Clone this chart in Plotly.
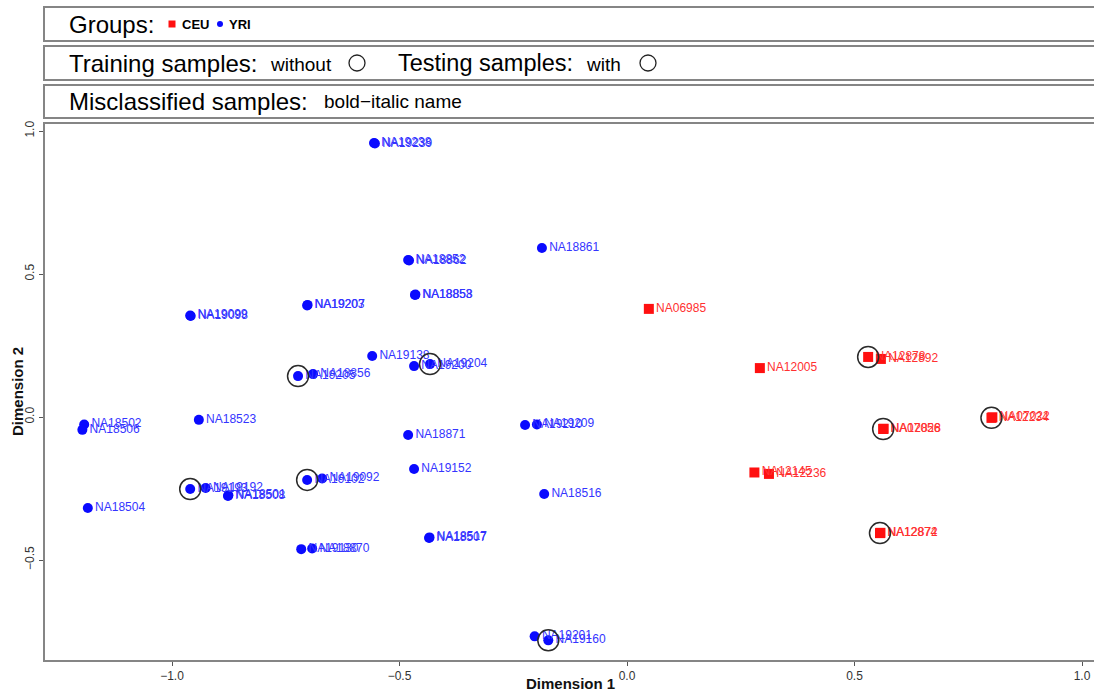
import plotly.graph_objects as go

# MDS coordinates of HapMap samples (Dimension 1, Dimension 2)
yri_ids = [
    "NA19238", "NA19239", "NA18861", "NA18852", "NA18862", "NA18853", "NA18858",
    "NA19203", "NA19207", "NA19099", "NA19098", "NA19138", "NA19200", "NA19204",
    "NA19205", "NA18856", "NA18871", "NA19210", "NA19209", "NA19152", "NA19102",
    "NA19092", "NA18516", "NA18507", "NA18517", "NA19130", "NA18870", "NA18502",
    "NA18506", "NA18523", "NA19193", "NA19192", "NA18508", "NA18501", "NA18504",
    "NA19201", "NA19160",
]
yri_dim1 = [
    -0.556, -0.554, -0.187, -0.481, -0.479, -0.466, -0.465,
    -0.703, -0.702, -0.960, -0.959, -0.560, -0.468, -0.433,
    -0.723, -0.690, -0.481, -0.224, -0.198, -0.468, -0.703,
    -0.670, -0.182, -0.435, -0.434, -0.716, -0.692, -1.193,
    -1.197, -0.941, -0.960, -0.926, -0.877, -0.876, -1.185,
    -0.203, -0.173,
]
yri_dim2 = [
    0.958, 0.956, 0.591, 0.549, 0.547, 0.427, 0.428,
    0.390, 0.392, 0.355, 0.353, 0.213, 0.178, 0.185,
    0.143, 0.150, -0.063, -0.028, -0.026, -0.182, -0.220,
    -0.215, -0.269, -0.423, -0.421, -0.462, -0.460, -0.026,
    -0.045, -0.010, -0.252, -0.248, -0.276, -0.274, -0.318,
    -0.767, -0.781,
]
yri_test = [
    False, False, False, False, False, False, False,
    False, False, False, False, False, False, True,
    True, False, False, False, False, False, True,
    False, False, False, False, False, False, False,
    False, False, True, False, False, False, False,
    False, True,
]

ceu_ids = [
    "NA06985", "NA12005", "NA12145", "NA12236", "NA12878", "NA12892",
    "NA12234", "NA07022", "NA07056", "NA12828", "NA12874", "NA12872",
]
ceu_dim1 = [
    0.048, 0.292, 0.280, 0.312, 0.530, 0.558,
    0.801, 0.803, 0.563, 0.564, 0.556, 0.557,
]
ceu_dim2 = [
    0.378, 0.171, -0.194, -0.199, 0.210, 0.203,
    -0.003, -0.001, -0.042, -0.041, -0.406, -0.405,
]
ceu_test = [
    False, False, False, False, True, False,
    True, False, True, False, True, False,
]

x_ticks = [-1.0, -0.5, 0.0, 0.5, 1.0]
y_ticks = [-0.5, 0.0, 0.5, 1.0]

W, H = 1094, 693
ML, MR, MT, MB = 44, 0, 123, 32
PW, PH = W - ML - MR, H - MT - MB

FONT = "Liberation Sans, Arial, Helvetica, sans-serif"
BLUE, RED = "#0a0aff", "#ff1010"
BOX_LINE = "#858585"


def px_x(p):
    return (p - ML) / PW


def px_y(p):
    return (H - MB - p) / PH


fig = go.Figure()

fig.add_trace(go.Scatter(
    x=yri_dim1, y=yri_dim2, text=yri_ids, mode="markers+text",
    textposition="middle right",
    textfont=dict(family=FONT, size=12, color="#3434ff"),
    marker=dict(symbol="circle", size=10, color=BLUE),
    showlegend=False, cliponaxis=False,
))
fig.add_trace(go.Scatter(
    x=ceu_dim1, y=ceu_dim2, text=ceu_ids, mode="markers+text",
    textposition="middle right",
    textfont=dict(family=FONT, size=12, color="#ff3030"),
    marker=dict(symbol="square", size=10, color=RED),
    showlegend=False, cliponaxis=False,
))

# open rings around the testing samples
test_x = [x for x, t in zip(yri_dim1, yri_test) if t] + [x for x, t in zip(ceu_dim1, ceu_test) if t]
test_y = [y for y, t in zip(yri_dim2, yri_test) if t] + [y for y, t in zip(ceu_dim2, ceu_test) if t]
fig.add_trace(go.Scatter(
    x=test_x, y=test_y, mode="markers",
    marker=dict(symbol="circle-open", size=21, color="#2a2a2a", line=dict(width=1.5)),
    showlegend=False, cliponaxis=False, hoverinfo="skip",
))

shapes = []
# stacked header boxes
for top, bottom in [(7, 41), (46, 80), (85, 118)]:
    shapes.append(dict(type="rect", xref="paper", yref="paper",
                       x0=0, x1=1.02, y0=px_y(bottom), y1=px_y(top),
                       line=dict(color=BOX_LINE, width=2)))
# plot frame
shapes.append(dict(type="rect", xref="paper", yref="paper",
                   x0=0, x1=1.02, y0=0, y1=1,
                   line=dict(color=BOX_LINE, width=2)))

# group keys in the first box
shapes.append(dict(type="rect", xref="paper", yref="paper",
                   x0=px_x(168.5), x1=px_x(175.5), y0=px_y(27.5), y1=px_y(20.5),
                   fillcolor=RED, line=dict(width=0)))
shapes.append(dict(type="circle", xref="paper", yref="paper",
                   x0=px_x(217), x1=px_x(223), y0=px_y(27), y1=px_y(21),
                   fillcolor=BLUE, line=dict(width=0)))
# open circles in the second box
for cx in (357, 648):
    shapes.append(dict(type="circle", xref="paper", yref="paper",
                       x0=px_x(cx - 8), x1=px_x(cx + 8), y0=px_y(71), y1=px_y(55),
                       line=dict(color="#222222", width=1.3)))

annotations = []


def header(text, x, y, size, bold=False):
    annotations.append(dict(
        text=f"<b>{text}</b>" if bold else text,
        xref="paper", yref="paper", x=px_x(x), y=px_y(y),
        xanchor="left", yanchor="middle", showarrow=False,
        font=dict(family=FONT, size=size, color="#000000"),
    ))


header("Groups:", 67, 24, 24)
header("CEU", 180, 25, 13, bold=True)
header("YRI", 227, 25, 13, bold=True)
header("Training samples:", 67, 63, 24)
header("without", 268, 64, 19)
header("Testing samples:", 396, 63, 23.5)
header("with", 584, 64, 19)
header("Misclassified samples:", 67, 102, 24)
header("bold\u2212italic name", 322, 102, 19)

# axis titles
annotations.append(dict(text="<b>Dimension 1</b>", xref="paper", yref="paper",
                        x=px_x(570), y=px_y(683), xanchor="center", yanchor="middle",
                        showarrow=False, font=dict(family=FONT, size=15, color="#111111")))
annotations.append(dict(text="<b>Dimension 2</b>", xref="paper", yref="paper",
                        x=px_x(17), y=px_y(392), xanchor="center", yanchor="middle",
                        textangle=-90, showarrow=False,
                        font=dict(family=FONT, size=15, color="#111111")))

fig.update_layout(
    width=W, height=H,
    margin=dict(l=ML, r=MR, t=MT, b=MB),
    paper_bgcolor="white", plot_bgcolor="white",
    shapes=shapes, annotations=annotations,
    xaxis=dict(
        range=[(44 - 627) / 455, (1094 - 627) / 455],
        tickvals=x_ticks, ticktext=[f"{v:.1f}".replace("-", "\u2212") for v in x_ticks],
        ticks="outside", ticklen=4, tickcolor="#555555", tickwidth=1,
        showgrid=False, zeroline=False, showline=False,
        tickfont=dict(family=FONT, size=12, color="#333333"),
    ),
    yaxis=dict(
        range=[(417 - 661) / 286, (417 - 123) / 286],
        tickvals=y_ticks, ticktext=[f"{v:.1f}".replace("-", "\u2212") for v in y_ticks],
        ticks="outside", ticklen=4, tickcolor="#555555", tickwidth=1,
        tickangle=-90,
        showgrid=False, zeroline=False, showline=False,
        tickfont=dict(family=FONT, size=12, color="#333333"),
    ),
)

fig.write_html("out.html")
